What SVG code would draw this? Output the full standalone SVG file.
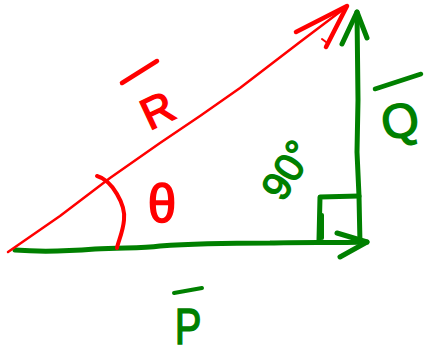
<svg xmlns="http://www.w3.org/2000/svg" width="428" height="359" viewBox="0 0 428 359">
<style>
.g{stroke:#008000;fill:none;stroke-linecap:round;stroke-linejoin:round}
.r{stroke:#ff0000;fill:none;stroke-linecap:round;stroke-linejoin:round}
.tg{fill:#008000;stroke:#008000;stroke-width:1.5;font-family:"Liberation Sans",Arial,sans-serif}
.tr{fill:#ff0000;stroke:#ff0000;stroke-width:1.5;font-family:"Liberation Sans",Arial,sans-serif}
</style>
<rect width="428" height="359" fill="#ffffff"/>
<g id="connectors">
  <g id="vector-P">
    <path class="g" stroke-width="5" d="M15,250 C40,252 70,251 95,249 C120,247 140,249 160,246 C200,243 240,243 270,243 C300,242 335,243 367,242"/>
    <path class="g" stroke-width="5" d="M337,233 L367,242 L340,257"/>
  </g>
  <g id="vector-Q">
    <path class="g" stroke-width="5" d="M360,244 L359,196 L357,152 L358,100 L357,12"/>
    <path class="g" stroke-width="5" d="M342,44 L357,12 L367,38"/>
  </g>
  <g id="vector-R">
    <path class="r" stroke-width="2.5" d="M8,252 L60,216 L110,178 L160,143 L200,116 L240,88 L300,42 L345,8"/>
    <path class="r" stroke-width="4.5" d="M296,32 L347,6 L326,47"/>
    <path class="r" stroke-width="2" d="M322,39 L326,42"/>
  </g>
</g>
<g id="angle-theta">
  <path class="r" stroke-width="4" d="M97,176 C112,180 126,205 124,220 C123,232 118,242 117,248"/>
  <text class="tr" x="0" y="0" font-size="54" text-anchor="middle" transform="translate(162,222) scale(0.95,1)">θ</text>
</g>
<g id="right-angle">
  <path class="g" stroke-width="5" d="M359,196 L320,197 L319,240"/>
  <path class="g" stroke-width="4" d="M322,215 L322,238"/>
</g>
<g id="label-R">
  <line class="r" stroke-width="4.5" x1="122" y1="83" x2="157" y2="61"/>
  <text class="tr" x="0" y="0" font-size="44" text-anchor="middle" transform="translate(164,124) rotate(-25)">R</text>
</g>
<g id="label-Q">
  <line class="g" stroke-width="4.5" x1="375" y1="89" x2="421" y2="74"/>
  <text class="tg" x="0" y="0" font-size="48" text-anchor="middle" transform="translate(403,137) rotate(-10)">Q</text>
</g>
<g id="label-P">
  <line class="g" stroke-width="4" x1="174" y1="293" x2="202" y2="288"/>
  <text class="tg" x="0" y="0" font-size="50" text-anchor="middle" transform="translate(188,344) scale(0.8,1)">P</text>
</g>
<g id="label-90">
  <text class="tg" x="0" y="0" font-size="40" transform="translate(283,203) rotate(-58)">90°</text>
</g>
</svg>
